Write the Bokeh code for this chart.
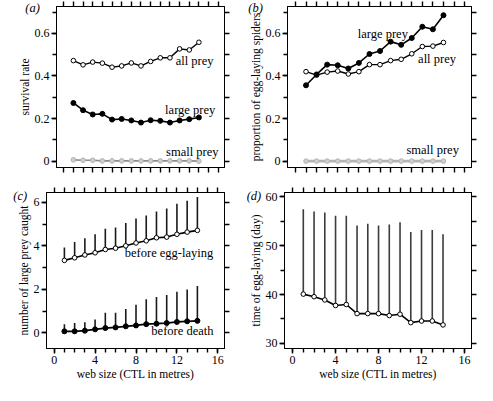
from bokeh.plotting import figure
from bokeh.layouts import column, row
from bokeh.models import Range1d, LinearAxis, FixedTicker, Label
from bokeh.embed import file_html
from bokeh.resources import INLINE

# ---------------- data ----------------
web_size = [1, 2, 3, 4, 5, 6, 7, 8, 9, 10, 11, 12, 13, 14]

survival_all = [0.472, 0.452, 0.465, 0.460, 0.441, 0.447, 0.461, 0.447, 0.468, 0.485, 0.485, 0.527, 0.522, 0.558]
survival_large = [0.273, 0.239, 0.219, 0.222, 0.195, 0.198, 0.191, 0.181, 0.192, 0.189, 0.181, 0.191, 0.197, 0.205]
survival_small = [0.006, 0.004, 0.004, 0.001, 0.001, 0.001, 0.001, 0.001, 0.001, 0.001, 0.001, 0.001, 0.001, 0.0]

egg_large = [0.356, 0.407, 0.453, 0.450, 0.435, 0.461, 0.503, 0.517, 0.561, 0.546, 0.578, 0.631, 0.619, 0.685]
egg_all = [0.420, 0.404, 0.418, 0.423, 0.409, 0.420, 0.453, 0.453, 0.472, 0.478, 0.504, 0.538, 0.540, 0.557]
egg_small = [0, 0, 0, 0, 0, 0, 0, 0, 0, 0, 0, 0, 0, 0]

caught_before_egg = [3.33, 3.45, 3.58, 3.68, 3.83, 3.89, 4.00, 4.13, 4.23, 4.37, 4.40, 4.53, 4.63, 4.71]
caught_before_egg_upper = [3.92, 4.17, 4.35, 4.53, 4.78, 4.84, 5.05, 5.26, 5.39, 5.58, 5.72, 5.93, 6.07, 6.24]
caught_before_death = [0.07, 0.07, 0.10, 0.16, 0.22, 0.25, 0.30, 0.34, 0.40, 0.42, 0.45, 0.50, 0.53, 0.55]
caught_before_death_upper = [0.40, 0.45, 0.49, 0.61, 0.92, 0.92, 1.10, 1.29, 1.54, 1.65, 1.74, 1.89, 1.99, 2.15]

egg_time_mean = [40.09, 39.56, 38.90, 37.76, 37.96, 36.10, 36.10, 36.10, 35.70, 35.97, 34.25, 34.58, 34.58, 33.78]
egg_time_upper = [57.47, 57.00, 56.80, 56.14, 56.14, 54.15, 54.49, 54.15, 54.35, 54.82, 52.83, 53.22, 53.22, 52.36]

x_ticks = [0, 4, 8, 12, 16]
x_minor = list(range(0, 17))
y_ticks_ab = [0, 0.2, 0.4, 0.6]
y_labels_ab = ["0", "0.2", "0.4", "0.6"]
y_minor_ab = [0, 0.1, 0.2, 0.3, 0.4, 0.5, 0.6, 0.7]
y_ticks_c = [0, 2, 4, 6]
y_minor_c = [0, 1, 2, 3, 4, 5, 6]
y_ticks_d = [30, 40, 50, 60]
y_minor_d = [30, 35, 40, 45, 50, 55, 60]

FONT = "Liberation Serif"
FW = 188


def style_axis(ax, ticks, minor, labels=None, show_labels=True):
    ax.axis_line_color = "#000000"
    ax.axis_line_width = 1
    ax.major_tick_line_color = "#000000"
    ax.minor_tick_line_color = "#000000"
    ax.major_tick_line_width = 1.4
    ax.minor_tick_line_width = 1.4
    ax.major_tick_out = 5
    ax.major_tick_in = 0
    ax.minor_tick_out = 4
    ax.minor_tick_in = 0
    ax.major_label_text_font = FONT
    ax.major_label_text_color = "black"
    ax.axis_label_text_font = FONT
    ax.axis_label_text_font_style = "normal"
    ax.axis_label_text_font_size = "11.5px"
    ax.axis_label_text_color = "black"
    ax.axis_label_standoff = 1
    if show_labels:
        ax.ticker = FixedTicker(ticks=ticks, minor_ticks=minor)
        ax.major_label_text_font_size = "12px"
        ax.major_label_standoff = 2
        if labels is not None:
            ax.major_label_overrides = {t: l for t, l in zip(ticks, labels)}
    else:
        ax.ticker = FixedTicker(ticks=[], minor_ticks=minor)
        ax.minor_tick_out = 5
        ax.major_label_standoff = 0


def make_fig(yr, width, height, yt, ym, ylabels, ylab, left, right, top, bottom, xlabels):
    p = figure(width=width, height=height,
               x_range=Range1d(-0.75, 16.65), y_range=yr,
               output_backend="svg", toolbar_location=None,
               min_border_left=left, min_border_right=right,
               min_border_top=top, min_border_bottom=bottom)
    p.xgrid.visible = False
    p.ygrid.visible = False
    p.outline_line_color = "black"
    p.outline_line_width = 1
    p.background_fill_color = "white"
    p.border_fill_color = "white"
    style_axis(p.xaxis[0], x_ticks, x_minor, show_labels=xlabels)
    style_axis(p.yaxis[0], yt, ym, labels=ylabels)
    p.yaxis[0].axis_label = ylab
    if xlabels:
        p.xaxis[0].axis_label = "web size (CTL in metres)"
    top_ax = LinearAxis()
    style_axis(top_ax, x_ticks, x_minor, show_labels=False)
    p.add_layout(top_ax, "above")
    right_ax = LinearAxis()
    style_axis(right_ax, yt, ym, show_labels=False)
    p.add_layout(right_ax, "right")
    return p


def note(p, x, y, txt):
    p.add_layout(Label(x=x, y=y, text=txt, text_font=FONT, text_font_size="12.5px",
                       text_color="black", text_baseline="middle", text_align="left"))


def panel_label(p, txt, dx, dy, fw, fh):
    # dx, dy: pixel offsets from the frame's top-left corner (dy > 0 = upwards)
    xr, yr = p.x_range, p.y_range
    x = xr.start + dx * (xr.end - xr.start) / fw
    y = yr.end + dy * (yr.end - yr.start) / fh
    p.add_layout(Label(x=x, y=y, text=txt, text_font=FONT, text_font_size="12.5px",
                       text_font_style="italic", text_color="black",
                       text_baseline="top", text_align="left"), "left")


LEFT_L, LEFT_R = 36, 7
RIGHT_L, RIGHT_R = 52, 6
WL = LEFT_L + FW + LEFT_R
WR = RIGHT_L + FW + RIGHT_R
TOP_T, TOP_B, FH_TOP = 6, 10, 161
BOT_T, BOT_B, FH_BOT = 15, 37, 156
H_TOP = TOP_T + FH_TOP + TOP_B
H_BOT = BOT_T + FH_BOT + BOT_B

# (a)
pa = make_fig(Range1d(-0.03, 0.726), WL, H_TOP, y_ticks_ab, y_minor_ab, y_labels_ab,
              "survival rate", LEFT_L, LEFT_R, TOP_T, TOP_B, False)
pa.line(web_size, survival_all, line_color="black", line_width=1.4)
pa.scatter(web_size, survival_all, size=4.6, fill_color="white", line_color="black", line_width=1.0)
pa.line(web_size, survival_large, line_color="black", line_width=1.6)
pa.scatter(web_size, survival_large, size=5, fill_color="black", line_color="black")
pa.line(web_size, survival_small, line_color="#8c8c8c", line_width=1.6)
pa.scatter(web_size, survival_small, size=4.6, fill_color="#cfcfcf", line_color="#b0b0b0")
note(pa, 11.6, 0.472, "all prey")
note(pa, 10.5, 0.24, "large prey")
note(pa, 10.6, 0.045, "small prey")
panel_label(pa, "(a)", -35, 6, FW, FH_TOP)

# (b)
pb = make_fig(Range1d(-0.03, 0.726), WR, H_TOP, y_ticks_ab, y_minor_ab, y_labels_ab,
              "proportion of egg-laying spiders", RIGHT_L, RIGHT_R, TOP_T, TOP_B, False)
pb.line(web_size, egg_small, line_color="#b4b4b4", line_width=2.6)
pb.scatter(web_size, egg_small, size=4.6, fill_color="#cfcfcf", line_color="#b4b4b4")
pb.line(web_size, egg_all, line_color="black", line_width=1.4)
pb.scatter(web_size, egg_all, size=4.6, fill_color="white", line_color="black", line_width=1.0)
pb.line(web_size, egg_large, line_color="black", line_width=1.6)
pb.scatter(web_size, egg_large, size=5, fill_color="black", line_color="black")
note(pb, 5.9, 0.596, "large prey")
note(pb, 11.6, 0.479, "all prey")
note(pb, 10.5, 0.05, "small prey")
panel_label(pb, "(b)", -40, 6, FW, FH_TOP)

# (c)
pc = make_fig(Range1d(-0.72, 6.45), WL, H_BOT, y_ticks_c, y_minor_c, None,
              "number of large prey caught", LEFT_L, LEFT_R, BOT_T, BOT_B, True)
pc.segment(web_size, caught_before_egg, web_size, caught_before_egg_upper,
           line_color="#1a1a1a", line_width=1.6)
pc.segment(web_size, caught_before_death, web_size, caught_before_death_upper,
           line_color="#1a1a1a", line_width=1.6)
pc.line(web_size, caught_before_egg, line_color="black", line_width=1.6)
pc.scatter(web_size, caught_before_egg, size=4.6, fill_color="white", line_color="black", line_width=1.0)
pc.line(web_size, caught_before_death, line_color="black", line_width=1.8)
pc.scatter(web_size, caught_before_death, size=5, fill_color="black", line_color="black")
note(pc, 6.9, 3.69, "before egg-laying")
note(pc, 9.5, 0.09, "before death")
panel_label(pc, "(c)", -35, 4, FW, FH_BOT)

# (d)
pd = make_fig(Range1d(28.95, 60.9), WR, H_BOT, y_ticks_d, y_minor_d, None,
              "time of egg-laying (day)", RIGHT_L, RIGHT_R, BOT_T, BOT_B, True)
pd.segment(web_size, egg_time_mean, web_size, egg_time_upper,
           line_color="#3c3c3c", line_width=1.6)
pd.line(web_size, egg_time_mean, line_color="black", line_width=1.6)
pd.scatter(web_size, egg_time_mean, size=4.6, fill_color="white", line_color="black", line_width=1.0)
panel_label(pd, "(d)", -38, 4, FW, FH_BOT)

layout = column(row(pa, pb), row(pc, pd))

with open("out.html", "w") as f:
    f.write(file_html(layout, INLINE))
